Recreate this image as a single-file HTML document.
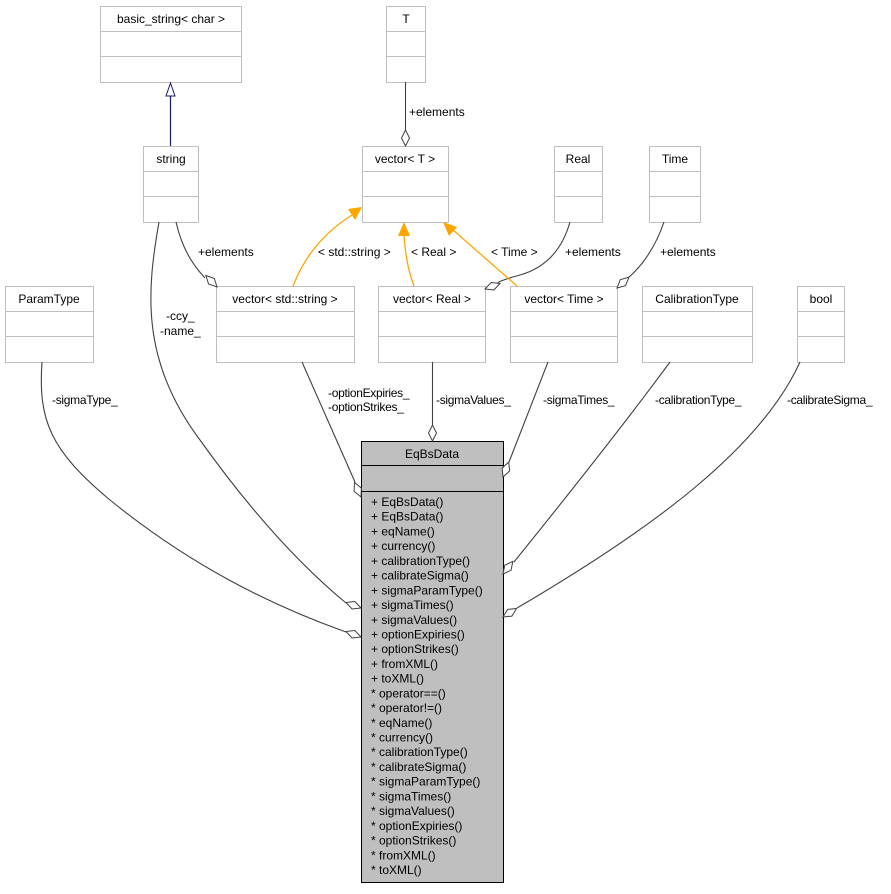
<!DOCTYPE html>
<html><head><meta charset="utf-8"><style>
html,body{margin:0;padding:0;background:#fff;}
svg text{font-family:"Liberation Sans",sans-serif;font-size:12px;fill:#000;}
</style></head><body>
<svg width="891" height="889" viewBox="0 0 891 889" xmlns="http://www.w3.org/2000/svg">
<defs>
<g id="dia"><path d="M0,0 L-8,-4 L-16,0 L-8,4 Z" fill="#fff" stroke="#404040" stroke-width="1"/></g>
</defs>
<g fill="#fff" stroke="#bfbfbf" stroke-width="1">
<rect x="100.5" y="6.5" width="141" height="76"/><path d="M100.5 31.5H241.5M100.5 56.5H241.5"/>
<rect x="386.5" y="6.5" width="39" height="76"/><path d="M386.5 31.5H425.5M386.5 56.5H425.5"/>
<rect x="143.5" y="146.5" width="55" height="76"/><path d="M143.5 171.5H198.5M143.5 196.5H198.5"/>
<rect x="362.5" y="146.5" width="86" height="76"/><path d="M362.5 171.5H448.5M362.5 196.5H448.5"/>
<rect x="554.5" y="146.5" width="48" height="76"/><path d="M554.5 171.5H602.5M554.5 196.5H602.5"/>
<rect x="649.5" y="146.5" width="51" height="76"/><path d="M649.5 171.5H700.5M649.5 196.5H700.5"/>
<rect x="5.5" y="286.5" width="88" height="76"/><path d="M5.5 311.5H93.5M5.5 336.5H93.5"/>
<rect x="216.5" y="286.5" width="138" height="76"/><path d="M216.5 311.5H354.5M216.5 336.5H354.5"/>
<rect x="378.5" y="286.5" width="107" height="76"/><path d="M378.5 311.5H485.5M378.5 336.5H485.5"/>
<rect x="510.5" y="286.5" width="107" height="76"/><path d="M510.5 311.5H617.5M510.5 336.5H617.5"/>
<rect x="642.5" y="286.5" width="110" height="76"/><path d="M642.5 311.5H752.5M642.5 336.5H752.5"/>
<rect x="797.5" y="286.5" width="47" height="76"/><path d="M797.5 311.5H844.5M797.5 336.5H844.5"/>
</g>
<g text-anchor="middle">
<text x="171" y="23">basic_string&lt; char &gt;</text>
<text x="406" y="23">T</text>
<text x="171" y="163">string</text>
<text x="405" y="163">vector&lt; T &gt;</text>
<text x="578" y="163">Real</text>
<text x="675" y="163">Time</text>
<text x="49" y="303">ParamType</text>
<text x="285" y="303">vector&lt; std::string &gt;</text>
<text x="432" y="303">vector&lt; Real &gt;</text>
<text x="564" y="303">vector&lt; Time &gt;</text>
<text x="697" y="303">CalibrationType</text>
<text x="821" y="303">bool</text>
</g>
<rect x="361.5" y="441.5" width="142" height="441" fill="#bfbfbf" stroke="#000" stroke-width="1"/>
<path d="M361.5 465.5H503.5M361.5 491.5H503.5" stroke="#000" stroke-width="1"/>
<text x="432" y="458" text-anchor="middle">EqBsData</text>
<g font-size="12">
<text x="371" y="506">+ EqBsData()</text>
<text x="371" y="520.7">+ EqBsData()</text>
<text x="371" y="535.4">+ eqName()</text>
<text x="371" y="550.2">+ currency()</text>
<text x="371" y="564.9">+ calibrationType()</text>
<text x="371" y="579.6">+ calibrateSigma()</text>
<text x="371" y="594.3">+ sigmaParamType()</text>
<text x="371" y="609">+ sigmaTimes()</text>
<text x="371" y="623.8">+ sigmaValues()</text>
<text x="371" y="638.5">+ optionExpiries()</text>
<text x="371" y="653.2">+ optionStrikes()</text>
<text x="371" y="667.9">+ fromXML()</text>
<text x="371" y="682.6">+ toXML()</text>
<text x="371" y="697.4">* operator==()</text>
<text x="371" y="712.1">* operator!=()</text>
<text x="371" y="726.8">* eqName()</text>
<text x="371" y="741.5">* currency()</text>
<text x="371" y="756.2">* calibrationType()</text>
<text x="371" y="771">* calibrateSigma()</text>
<text x="371" y="785.7">* sigmaParamType()</text>
<text x="371" y="800.4">* sigmaTimes()</text>
<text x="371" y="815.1">* sigmaValues()</text>
<text x="371" y="829.8">* optionExpiries()</text>
<text x="371" y="844.6">* optionStrikes()</text>
<text x="371" y="859.3">* fromXML()</text>
<text x="371" y="874">* toXML()</text>
</g>
<path d="M170.5 146V96" stroke="#191970" stroke-width="1.2" fill="none"/>
<path d="M170.5 83 L166 96 L175 96 Z" fill="#fff" stroke="#191970" stroke-width="1"/>
<g stroke="#404040" stroke-width="1.1" fill="none">
<path d="M405.5 82V131"/>
<path d="M176 222 C182 248 192 264 205 278"/>
<path d="M159 222 C147 290 140 360 200 440 C250 510 300 565 346 603"/>
<path d="M42 362 C38 420 50 450 110 500 C190 565 270 605 346 632"/>
<path d="M302 362 L355 482"/>
<path d="M432.5 362V425"/>
<path d="M548 362 L509 462"/>
<path d="M670 362 C620 430 560 505 514 562"/>
<path d="M800 362 C760 450 650 530 517 608"/>
<path d="M570 222 C562 250 545 268 520 275 C505 279 495 283 499 283"/>
<path d="M664 222 C655 248 643 265 628 278"/>
</g>
<use href="#dia" transform="translate(405.5,146) rotate(90)"/>
<use href="#dia" transform="translate(217,287) rotate(46)"/>
<use href="#dia" transform="translate(485,289) rotate(160)"/>
<use href="#dia" transform="translate(617,288) rotate(138)"/>
<use href="#dia" transform="translate(361,608) rotate(20)"/>
<use href="#dia" transform="translate(361,637) rotate(20)"/>
<use href="#dia" transform="translate(361,497) rotate(66)"/>
<use href="#dia" transform="translate(432.5,441) rotate(90)"/>
<use href="#dia" transform="translate(503,477) rotate(111)"/>
<use href="#dia" transform="translate(503,574) rotate(128)"/>
<use href="#dia" transform="translate(503,617) rotate(148)"/>
<g stroke="#ffa500" stroke-width="1.3" fill="none">
<path d="M293 286 C305 255 325 232 352 215"/>
<path d="M414 286 C407 268 405 250 404 236"/>
<path d="M517 286 L453 230"/>
</g>
<g fill="#ffa500">
<path d="M362 207 L348 209 L355 220 Z"/>
<path d="M404 222 L398 236 L410 236 Z"/>
<path d="M443 222 L449 236 L457 227 Z"/>
</g>
<text x="409" y="116">+elements</text>
<text x="198" y="256">+elements</text>
<text x="565" y="256">+elements</text>
<text x="660" y="256">+elements</text>
<text x="318" y="256">&lt; std::string &gt;</text>
<text x="411" y="256">&lt; Real &gt;</text>
<text x="491" y="256">&lt; Time &gt;</text>
<text x="166" y="320">-ccy_</text>
<text x="160" y="335">-name_</text>
<g font-size="12" letter-spacing="-0.3">
<text x="52" y="404">-sigmaType_</text>
<text x="328" y="397">-optionExpiries_</text>
<text x="328" y="411">-optionStrikes_</text>
<text x="436" y="404">-sigmaValues_</text>
<text x="543" y="404">-sigmaTimes_</text>
<text x="655" y="404">-calibrationType_</text>
<text x="787" y="404">-calibrateSigma_</text>
</g>
</svg>
</body></html>
